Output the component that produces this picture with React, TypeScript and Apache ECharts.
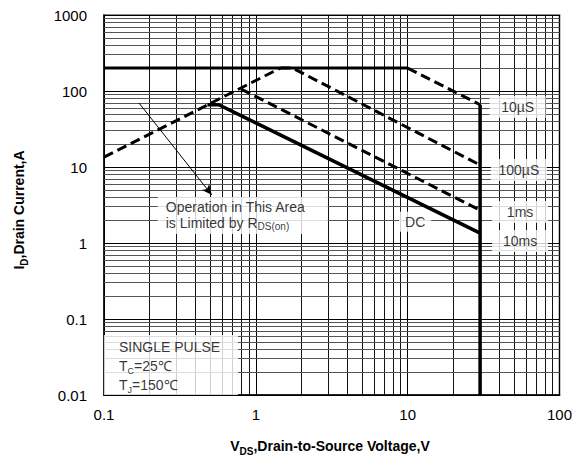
import React, { useEffect, useRef } from "react";
import * as echarts from "echarts";

// ---- data ----
const xTickLabels = ["0.1", "1", "10", "100"];
const yTickLabels = ["0.01", "0.1", "1", "10", "100", "1000"];

// RDS(on) limit (dashed, rising)
const limitV = [0.1, 1.45];
const limitI = [13.5, 200];
// current ceiling (solid)
const ceilingV = [0.1, 10];
const ceilingI = [200, 200];
// 10 µs (dashed)
const us10V = [10, 30];
const us10I = [200, 66];
// 100 µs (dashed)
const us100V = [1.45, 1.75, 30];
const us100I = [200, 200, 10.6];
// 1 ms (dashed)
const ms1V = [0.8, 30];
const ms1I = [106, 2.7];
// DC / 10 ms (solid)
const dcV = [0.48, 0.57, 30];
const dcI = [66, 66, 1.35];
// breakdown voltage limit (solid vertical)
const bvV = [30, 30];
const bvI = [66, 0.01];

// arrow pointing to the RDS(on) note
const arrowV = [0.17, 0.512];
const arrowI = [69.5, 4.3];

// log grid lines (2..9 within each decade)
const xGridMinor = [0.2, 0.3, 0.4, 0.5, 0.6, 0.7, 0.8, 0.9, 2, 3, 4, 5, 6, 7, 8, 9, 20, 30, 40, 50, 60, 70, 80, 90];
const yGridMinor = [
  0.02, 0.03, 0.04, 0.05, 0.06, 0.07, 0.08, 0.09,
  0.2, 0.3, 0.4, 0.5, 0.6, 0.7, 0.8, 0.9,
  2, 3, 4, 5, 6, 7, 8, 9,
  20, 30, 40, 50, 60, 70, 80, 90,
  200, 300, 400, 500, 600, 700, 800, 900,
];

// annotation labels
const curveLabels = ["10µS", "100µS", "1ms", "10ms"];
const curveLabelV = [53, 54, 55, 55];
const curveLabelI = [61.5, 9.15, 2.56, 1.06];
const dcLabel = "DC";
const dcLabelV = [11.2];
const dcLabelI = [1.9];
const noteLines = ["Operation in This Area", "is Limited by R", "DS(on)"];
const noteV = [0.226];
const noteI = [2.3];
const pulseLines = ["SINGLE PULSE", "T", "C", "=25℃", "T", "J", "=150℃"];
const pulseV = [0.1];
const pulseI = [0.01];

const FONT = '"Liberation Sans", Arial, Helvetica, sans-serif';

const pts = (xs: number[], ys: number[]) => xs.map((x, i) => [x, ys[i]]);

export default function App() {
  const ref = useRef<HTMLDivElement>(null);

  useEffect(() => {
    if (!ref.current) return;
    const chart = echarts.init(ref.current, null, { renderer: "svg" });

    const dashed = (name: string, xs: number[], ys: number[]) => ({
      name,
      type: "line",
      data: pts(xs, ys),
      symbol: "none",
      z: 3,
      lineStyle: { color: "#000", width: 3, type: [10, 5] },
    });
    const solid = (name: string, xs: number[], ys: number[], w = 3) => ({
      name,
      type: "line",
      data: pts(xs, ys),
      symbol: "none",
      z: 3,
      lineStyle: { color: "#000", width: w },
    });

    const boxLabel = {
      show: true,
      position: "inside",
      color: "#000",
      fontFamily: FONT,
      fontSize: 14,
      backgroundColor: "#fff",
    };

    const option: any = {
      animation: false,
      grid: {
        left: 104,
        top: 15,
        width: 457,
        height: 380,
        show: true,
        borderColor: "#8c8c8c",
        borderWidth: 2,
        backgroundColor: "transparent",
      },
      xAxis: {
        type: "log",
        logBase: 10,
        min: 0.1,
        max: 100,
        axisLine: { show: true, lineStyle: { color: "#000", width: 1.5 } },
        axisTick: { show: false },
        splitLine: { show: true, lineStyle: { color: "#000", width: 1 } },
        axisLabel: {
          color: "#000",
          fontFamily: FONT,
          fontSize: 15,
          margin: 12,
          formatter: (v: number) => xTickLabels[Math.round(Math.log10(v)) + 1],
        },
      },
      yAxis: {
        type: "log",
        logBase: 10,
        min: 0.01,
        max: 1000,
        axisLine: { show: true, lineStyle: { color: "#000", width: 1.5 } },
        axisTick: { show: false },
        splitLine: { show: true, lineStyle: { color: "#000", width: 1 } },
        axisLabel: {
          color: "#000",
          fontFamily: FONT,
          fontSize: 15,
          margin: 17,
          formatter: (v: number) => yTickLabels[Math.round(Math.log10(v)) + 2],
        },
      },
      graphic: [
        {
          type: "text",
          x: 19,
          y: 210,
          rotation: Math.PI / 2,
          style: {
            text: "{b|I}{s|D}{b|,Drain Current,A}",
            align: "center",
            verticalAlign: "middle",
            rich: {
              b: { fontFamily: FONT, fontSize: 14, fontWeight: "bold", fill: "#000", lineHeight: 20 },
              s: { fontFamily: FONT, fontSize: 10, fontWeight: "bold", fill: "#000", lineHeight: 12, verticalAlign: "bottom" },
            },
          },
        },
        {
          type: "text",
          x: 330,
          y: 446,
          style: {
            text: "{b|V}{s|DS}{b|,Drain-to-Source Voltage,V}",
            align: "center",
            verticalAlign: "middle",
            rich: {
              b: { fontFamily: FONT, fontSize: 14, fontWeight: "bold", fill: "#000", lineHeight: 20 },
              s: { fontFamily: FONT, fontSize: 10, fontWeight: "bold", fill: "#000", lineHeight: 12, verticalAlign: "bottom" },
            },
          },
        },
      ],
      series: [
        {
          name: "grid",
          type: "line",
          data: [[0.1, 0.01]],
          symbol: "none",
          silent: true,
          z: 1,
          lineStyle: { opacity: 0 },
          markLine: {
            silent: true,
            symbol: ["none", "none"],
            z: 1,
            label: { show: false },
            animation: false,
            data: [
              ...xGridMinor.map((x) => ({ xAxis: x, lineStyle: { color: "#111", width: 1, type: "solid" } })),
              ...yGridMinor.map((y) => ({ yAxis: y, lineStyle: { color: "#555", width: 1, type: "solid" } })),
            ],
          },
        },
        dashed("RDS(on) limit", limitV, limitI),
        solid("ceiling", ceilingV, ceilingI),
        dashed("10µS", us10V, us10I),
        dashed("100µS", us100V, us100I),
        dashed("1ms", ms1V, ms1I),
        solid("DC", dcV, dcI, 3.5),
        solid("BV", bvV, bvI, 3.5),
        {
          name: "arrow",
          type: "line",
          data: pts(arrowV, arrowI),
          symbol: "none",
          z: 4,
          lineStyle: { opacity: 0 },
          markLine: {
            silent: true,
            z: 4,
            symbol: ["none", "arrow"],
            symbolSize: [7, 10],
            label: { show: false },
            lineStyle: { color: "#000", width: 1, type: "solid" },
            data: [[{ coord: [arrowV[0], arrowI[0]] }, { coord: [arrowV[1], arrowI[1]] }]],
          },
        },
        {
          name: "curve labels",
          type: "scatter",
          symbolSize: 0,
          z: 5,
          data: curveLabels.map((t, i) => ({ value: [curveLabelV[i], curveLabelI[i]], name: t })),
          label: {
            ...boxLabel,
            formatter: (p: any) => p.name,
            width: 48,
            align: "center",
            verticalAlign: "middle",
            padding: [4, 4, 4, 4],
          },
        },
        {
          name: "dc label",
          type: "scatter",
          symbolSize: 0,
          z: 5,
          data: [{ value: [dcLabelV[0], dcLabelI[0]], name: dcLabel }],
          label: {
            ...boxLabel,
            formatter: (p: any) => p.name,
            align: "center",
            verticalAlign: "middle",
            padding: [3, 6, 3, 6],
          },
        },
        {
          name: "note",
          type: "scatter",
          symbolSize: 0,
          z: 5,
          data: [{ value: [noteV[0], noteI[0]] }],
          label: {
            ...boxLabel,
            align: "left",
            verticalAlign: "middle",
            padding: [2, 8, 3, 8],
            width: 154,
            formatter: () => `{t|${noteLines[0]}}\n{t|${noteLines[1]}}{s|${noteLines[2]}}`,
            rich: {
              t: { fontFamily: FONT, fontSize: 14, color: "#000", lineHeight: 16 },
              s: { fontFamily: FONT, fontSize: 10, color: "#000", lineHeight: 12, verticalAlign: "bottom" },
            },
          },
        },
        {
          name: "pulse note",
          type: "scatter",
          symbolSize: 0,
          z: 5,
          data: [{ value: [pulseV[0], pulseI[0]] }],
          label: {
            ...boxLabel,
            align: "left",
            verticalAlign: "bottom",
            padding: [2, 8, 1, 15],
            width: 111,
            formatter: () =>
              `{t|${pulseLines[0]}}\n{t|${pulseLines[1]}}{s|${pulseLines[2]}}{t|${pulseLines[3]}}\n{t|${pulseLines[4]}}{s|${pulseLines[5]}}{t|${pulseLines[6]}}`,
            rich: {
              t: { fontFamily: FONT, fontSize: 14, color: "#000", lineHeight: 19 },
              s: { fontFamily: FONT, fontSize: 9, color: "#000", lineHeight: 12, verticalAlign: "bottom" },
            },
          },
        },
      ],
    };

    chart.setOption(option);
    return () => chart.dispose();
  }, []);

  return (
    <div
      ref={ref}
      style={{ position: "fixed", left: 0, top: 0, width: 575, height: 456, background: "#fff" }}
    />
  );
}
